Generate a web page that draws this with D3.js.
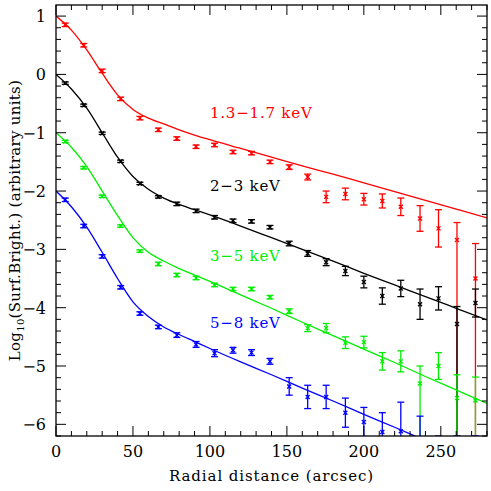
<!DOCTYPE html>
<html><head><meta charset="utf-8">
<script src="https://cdn.jsdelivr.net/npm/d3@7"></script>
<style>body{margin:0;background:#fff}</style>
</head><body>
<script>
// radial bins (arcsec)
var radius = [6,18,30,42,54.5,66.5,78.5,91,103,115,127,139,151.5,163.5,175.5,188,200,212,224,236.5,248.5,260.5,272.5];

var red   = [0.85,0.5,0.06,-0.42,-0.75,-0.95,-1.1,-1.24,-1.21,-1.33,-1.35,-1.5,-1.59,-1.76,-2.1,-2.05,-2.14,-2.17,-2.27,-2.47,-2.64,-2.84,-3.5];
var redUp = [0.03,0.03,0.03,0.03,0.03,0.03,0.03,0.03,0.03,0.03,0.03,0.03,0.04,0.05,0.1,0.1,0.1,0.12,0.15,0.22,0.32,0.3,0.6];
var redDn = [0.03,0.03,0.03,0.03,0.03,0.03,0.03,0.03,0.03,0.03,0.03,0.03,0.04,0.05,0.1,0.1,0.1,0.12,0.15,0.22,0.32,5,5];

var black   = [-0.15,-0.53,-1.01,-1.49,-1.87,-2.1,-2.22,-2.34,-2.45,-2.51,-2.52,-2.62,-2.9,-3.07,-3.22,-3.37,-3.56,-3.8,-3.67,-3.94,-3.84,-4.28,-3.92];
var blackUp = [0.02,0.02,0.02,0.02,0.02,0.02,0.03,0.03,0.03,0.03,0.03,0.03,0.04,0.05,0.06,0.08,0.1,0.14,0.14,0.26,0.2,0.3,0.24];
var blackDn = [0.02,0.02,0.02,0.02,0.02,0.02,0.03,0.03,0.03,0.03,0.03,0.03,0.04,0.05,0.06,0.08,0.1,0.14,0.14,0.26,0.2,5,0.24];

var green   = [-1.15,-1.6,-2.09,-2.6,-3.03,-3.25,-3.44,-3.49,-3.61,-3.68,-3.68,-3.82,-4.06,-4.35,-4.35,-4.6,-4.59,-4.92,-4.92,-5.3,-5.0,-5.55,-5.59];
var greenUp = [0.02,0.02,0.02,0.02,0.02,0.03,0.03,0.03,0.03,0.03,0.03,0.03,0.04,0.06,0.08,0.1,0.1,0.15,0.18,0.3,0.23,0.4,0.4];
var greenDn = [0.02,0.02,0.02,0.02,0.02,0.03,0.03,0.03,0.03,0.03,0.03,0.03,0.04,0.06,0.08,0.1,0.1,0.15,0.18,5,0.23,5,5];

var blue   = [-2.15,-2.6,-3.12,-3.65,-4.1,-4.33,-4.47,-4.63,-4.78,-4.73,-4.77,-4.92,-5.35,-5.53,-5.53,-5.8,-5.96,-6.13,-6.12,-6.5,-6.5,-6.5,-6.5];
var blueUp = [0.03,0.03,0.03,0.03,0.03,0.03,0.04,0.05,0.06,0.05,0.05,0.05,0.15,0.2,0.2,0.25,0.25,0.33,0.5,0.64,0.3,0.3,0.3];
var blueDn = [0.03,0.03,0.03,0.03,0.03,0.03,0.04,0.05,0.06,0.05,0.05,0.05,0.15,0.2,0.2,0.25,0.25,1,1,1,1,1,1];

// model curves
var modelR     = [0,10,20,30,40,50,60,70,80,90,100,120,140,160,180,200,220,240,260,280];
var redModel   = [1,0.76,0.42,0.02,-0.35,-0.6,-0.75,-0.85,-0.95,-1.04,-1.12,-1.27,-1.42,-1.57,-1.71,-1.86,-2.01,-2.16,-2.31,-2.46];
var blackModel = [0,-0.25,-0.58,-1.0,-1.42,-1.75,-1.97,-2.12,-2.23,-2.32,-2.41,-2.6,-2.8,-3.0,-3.2,-3.41,-3.61,-3.81,-4.01,-4.21];
var greenModel = [-1,-1.25,-1.58,-2.0,-2.42,-2.8,-3.05,-3.2,-3.33,-3.44,-3.55,-3.78,-4.01,-4.25,-4.48,-4.71,-4.94,-5.18,-5.41,-5.64];
var blueModel  = [-2,-2.27,-2.62,-3.05,-3.5,-3.9,-4.15,-4.33,-4.46,-4.58,-4.7,-4.93,-5.15,-5.38,-5.6,-5.83,-6.05,-6.28,-6.5,-6.73];

var bandLabels = ["1.3\u22121.7 keV","2\u22123 keV","3\u22125 keV","5\u22128 keV"];

let W = 491, H = 491;
let mL = 56, mT = 5, mR = 487, mB = 436;
let font = "DejaVu Serif";

let svg = d3.select("body").append("svg").attr("width", W).attr("height", H);

let x = d3.scaleLinear().domain([0, 280]).range([mL, mR]);
let y = d3.scaleLinear().domain([-6.2, 1.19]).range([mB, mT]);

svg.append("defs").append("clipPath").attr("id", "clip")
   .append("rect").attr("x", mL).attr("y", mT).attr("width", mR - mL).attr("height", mB - mT);

let plot = svg.append("g").attr("clip-path", "url(#clip)");

let series = [
  {c: "#ff0000", v: red, up: redUp, dn: redDn, m: redModel, lab: [100, -0.74]},
  {c: "#000000", v: black, up: blackUp, dn: blackDn, m: blackModel, lab: [100, -2.0]},
  {c: "#00ee00", v: green, up: greenUp, dn: greenDn, m: greenModel, lab: [100, -3.2]},
  {c: "#0000ff", v: blue, up: blueUp, dn: blueDn, m: blueModel, lab: [100, -4.35]}
];

let line = d3.line().x((d, i) => x(modelR[i])).y(d => y(d)).curve(d3.curveMonotoneX);

series.forEach(function(s, k) {
  plot.append("path").attr("d", line(s.m)).attr("fill", "none")
      .attr("stroke", s.c).attr("stroke-width", 1.3);

  let g = plot.append("g").attr("stroke", s.c).attr("stroke-width", 1.3);
  radius.forEach(function(r, i) {
    let cx = x(r), cy = y(s.v[i]);
    let y1 = y(s.v[i] + s.up[i]), y2 = y(s.v[i] - s.dn[i]);
    g.append("line").attr("x1", cx).attr("x2", cx).attr("y1", y1).attr("y2", y2);
    g.append("line").attr("x1", cx - 3.5).attr("x2", cx + 3.5).attr("y1", y1).attr("y2", y1);
    g.append("line").attr("x1", cx - 3.5).attr("x2", cx + 3.5).attr("y1", y2).attr("y2", y2);
    g.append("path").attr("d", "M" + (cx - 2) + "," + (cy - 2) + "L" + (cx + 2) + "," + (cy + 2) +
                                "M" + (cx - 2) + "," + (cy + 2) + "L" + (cx + 2) + "," + (cy - 2));
  });

  svg.append("text").attr("x", x(s.lab[0])).attr("y", y(s.lab[1]))
     .attr("fill", s.c).attr("font-family", font).attr("font-size", "15px")
     .attr("letter-spacing", "0.8px").text(bandLabels[k]);
});

// frame + ticks
svg.append("rect").attr("x", mL).attr("y", mT).attr("width", mR - mL).attr("height", mB - mT)
   .attr("fill", "none").attr("stroke", "#000").attr("stroke-width", 1.3);

let tk = svg.append("g").attr("stroke", "#000").attr("stroke-width", 1);
d3.range(0, 281, 10).forEach(function(v) {
  let len = v % 50 === 0 ? 10 : 5;
  tk.append("line").attr("x1", x(v)).attr("x2", x(v)).attr("y1", mB).attr("y2", mB - len);
  tk.append("line").attr("x1", x(v)).attr("x2", x(v)).attr("y1", mT).attr("y2", mT + len);
});
d3.range(-31, 6).forEach(function(k) {
  let v = k / 5;
  let len = k % 5 === 0 ? 10 : 5;
  tk.append("line").attr("x1", mL).attr("x2", mL + len).attr("y1", y(v)).attr("y2", y(v));
  tk.append("line").attr("x1", mR).attr("x2", mR - len).attr("y1", y(v)).attr("y2", y(v));
});

let xTicks = [0, 50, 100, 150, 200, 250];
let yTicks = [1, 0, -1, -2, -3, -4, -5, -6];

svg.selectAll("text.xt").data(xTicks).enter().append("text").attr("class", "xt")
   .attr("x", d => x(d)).attr("y", mB + 21).attr("text-anchor", "middle")
   .attr("font-family", font).attr("font-size", "16px").text(d => d);

svg.selectAll("text.yt").data(yTicks).enter().append("text").attr("class", "yt")
   .attr("x", mL - 10).attr("y", d => y(d) + 6).attr("text-anchor", "end")
   .attr("font-family", font).attr("font-size", "16px").text(d => d < 0 ? "\u2212" + (-d) : d);

svg.append("text").attr("x", (mL + mR) / 2).attr("y", mB + 45).attr("text-anchor", "middle")
   .attr("font-family", font).attr("font-size", "15px").attr("letter-spacing", "0.9px")
   .text("Radial distance (arcsec)");

let yl = svg.append("text").attr("transform", "translate(20," + ((mT + mB) / 2) + ") rotate(-90)")
   .attr("text-anchor", "middle").attr("font-family", font).attr("font-size", "15px")
   .attr("letter-spacing", "0.3px");
yl.append("tspan").text("Log");
yl.append("tspan").attr("font-size", "10px").attr("dy", 4).text("10");
yl.append("tspan").attr("dy", -4).text("(Surf.Bright.) (arbitrary units)");
</script>
</body></html>
